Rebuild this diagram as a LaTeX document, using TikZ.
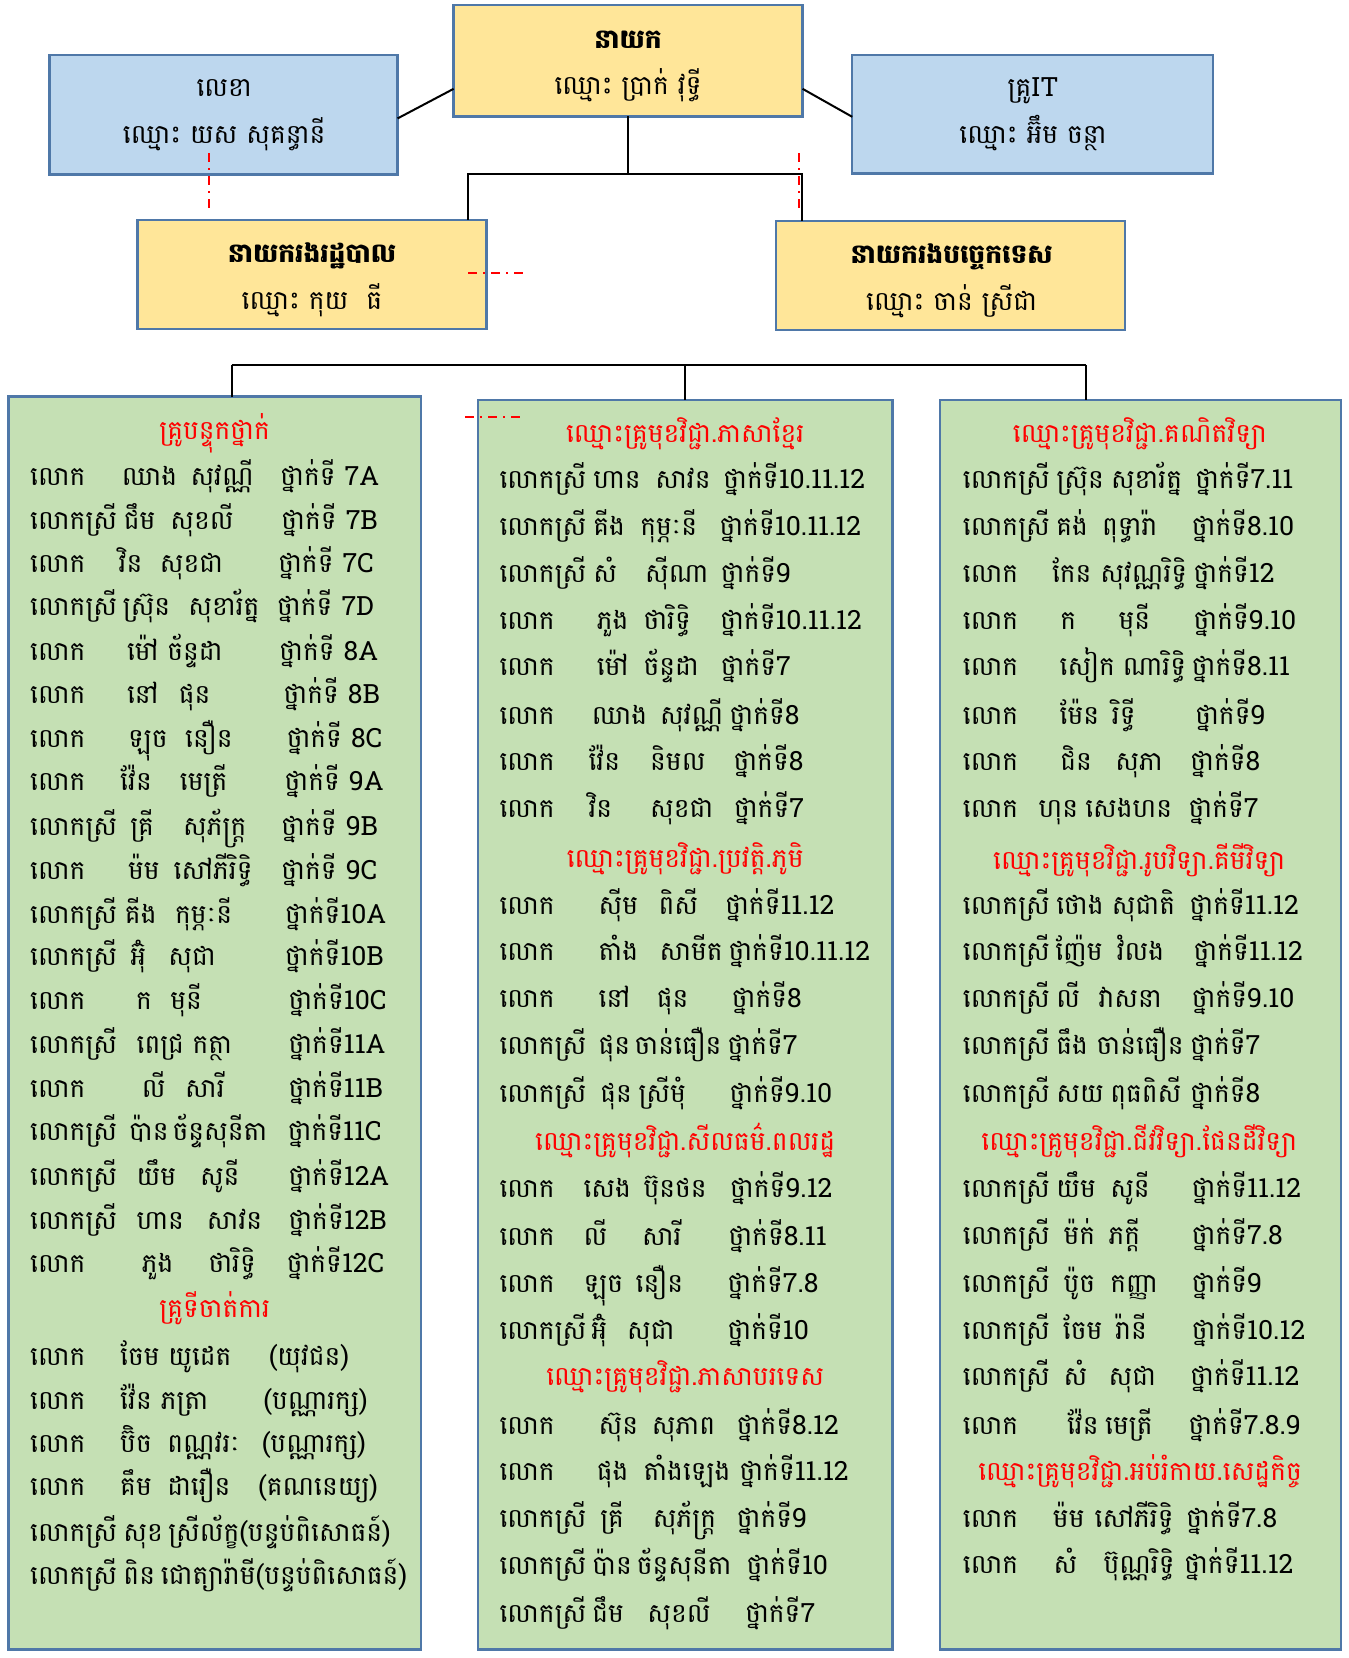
\documentclass[tikz,border=0pt]{standalone}
\usepackage{fontspec}
\newfontfamily\kh[Script=Khmer]{Battambang}
\usetikzlibrary{calc}
\definecolor{bd}{HTML}{4F78A8}
\definecolor{yel}{HTML}{FFE699}
\definecolor{blu}{HTML}{BDD7EE}
\definecolor{grn}{HTML}{C5E0B4}
\definecolor{kred}{HTML}{FF0000}
\newcommand\kfont{\kh\fontsize{26.5}{30}\selectfont}
\newcommand\gap{\hspace{9pt}}
\tikzset{
  box/.style={draw=bd, line width=2.4pt, inner sep=0pt, outer sep=0pt},
  ybox/.style={box, fill=yel},
  bbox/.style={box, fill=blu},
  gbox/.style={box, fill=grn},
  tx/.style={anchor=base west, inner sep=0pt, font=\kfont},
  ctr/.style={anchor=base, inner sep=0pt, font=\kfont},
  ctrb/.style={anchor=base, inner sep=0pt, font=\kfont\bfseries},
  hd/.style={anchor=base, inner sep=0pt, text=kred, font=\kfont},
  conn/.style={line width=2pt, black},
  rdash/.style={kred, line width=2pt, dash pattern=on 9pt off 6pt on 2pt off 6pt},
}
\newcommand\KBox[6]{\node[#2, minimum width={(#5-(#3))*1.0573pt}, minimum height={(#6-(#4))*1.0573pt}] (#1) at ({(#3+#5)/2},{(#4+#6)/2}) {};}
\newcommand\KRow[9]{%
  \node[tx] (#1a) at (\cx,#2+8.5) {#3};
  \node[tx] (#1b) at (#4,#2+8.5) {#5};
  \node[tx] (#1c) at (#6,#2+8.5) {#7};
  \node[tx] (#1d) at (#8,#2+8.5) {#9};}
\newcommand\KRowT[7]{%
  \node[tx] (#1a) at (\cx,#2+8.5) {#3};
  \node[tx] (#1b) at (#4,#2+8.5) {#5};
  \node[tx] (#1c) at (#6,#2+8.5) {#7};}
\newcommand\KHead[4]{\node[hd] (#1) at (#2,#3+8.5) {#4};}
\def\Lk{លោក}
\def\Ls{លោកស្រី}
\def\Tn{ថ្នាក់ទី}
\begin{document}
\begin{tikzpicture}[x=1.0573pt,y=-1.0573pt]
\fill[white] (0,0) rectangle (1275,1568);
\useasboundingbox (0,0) rectangle (1275,1568);
% boxes
\KBox{sec}{bbox}{47}{52}{376}{165}
\KBox{dir}{ybox}{429}{5}{759}{110}
\KBox{it}{bbox}{806}{52}{1147}{164}
\KBox{adm}{ybox}{130}{208}{460}{311}
\KBox{tech}{ybox}{734}{209}{1064}{312}
\KBox{L}{gbox}{8}{375}{398}{1560}
\KBox{M}{gbox}{452}{378}{844}{1560}
\KBox{R}{gbox}{889}{378}{1268}{1560}
% connectors top
\draw[conn] ($(sec.east)+(0,3.5)$) -- ($(dir.west)+(0,26.5)$);
\draw[conn] ($(dir.east)+(0,26.5)$) -- ($(it.west)+(0,2.5)$);
\draw[conn] (dir.south) -- (dir.south |- 0,165);
\draw[conn] ($(adm.north west)+(313,0)$) |- (dir.south |- 0,165) -| ($(tech.north west)+(24,0)$);
% connectors second level
\coordinate (b1) at (219,345);
\coordinate (b2) at (1027,345);
\draw[conn] ($(adm.south)+(-8,0)$) -- ($(adm.south)+(-8,0)$ |- b1);
\draw[conn] ($(tech.south)+(-9,0)$) -- ($(tech.south)+(-9,0)$ |- b1);
\draw[conn] (b1) -- (b2);
\draw[conn] (b1) -- (b1 |- L.north);
\draw[conn] (b2) -- (b2 |- R.north);
\draw[conn] (M.north) -- (M.north |- b1);
% red dashed remnants
\coordinate (r1a) at (198,145); \coordinate (r1b) at (198,200);
\coordinate (r2a) at (756,145); \coordinate (r2b) at (756,200);
\coordinate (r3a) at (443,258); \coordinate (r3b) at (500,258);
\coordinate (r4a) at (440,394); \coordinate (r4b) at (497,394);
\draw[rdash] (r1a) -- (r1b);
\draw[rdash] (r2a) -- (r2b);
\draw[rdash] (r3a) -- (r3b);
\draw[rdash] (r4a) -- (r4b);
% top texts
\node[ctrb] (dirT1) at (594,37+8.5) {នាយក};
\node[ctr] (dirT2) at (594,81+8.5) {ឈ្មោះ\gap ប្រាក់\gap វុទ្ធី};
\node[ctr] (secT1) at (212,83+8.5) {លេខា};
\node[ctr] (secT2) at (212,127+8.5) {ឈ្មោះ យស សុគន្ធានី};
\node[ctr] (itT1) at (977,83+8.5) {គ្រូIT};
\node[ctr] (itT2) at (977,127+8.5) {ឈ្មោះ អ៊ឹម\gap ចន្ថា};
\node[ctrb] (admT1) at (295,240+8.5) {នាយករងរដ្ឋបាល};
\node[ctr] (admT2) at (295,284+8.5) {ឈ្មោះ កុយ\gap\gap ធី};
\node[ctrb] (techT1) at (900,241+8.5) {នាយករងបច្ចេកទេស};
\node[ctr] (techT2) at (900,285+8.5) {ឈ្មោះ ចាន់\gap ស្រីជា};
% left column
\def\cx{28.4}
\KHead{Lh1}{203}{407}{គ្រូបន្ទុកថ្នាក់}
\KRow{L1}{451}{\Lk}{115}{ឈាង}{180}{សុវណ្ណី}{265}{\Tn\ 7A}
\KRow{L2}{492}{\Ls}{117}{ជឹម}{161}{សុខលី}{266}{\Tn\ 7B}
\KRow{L3}{533}{\Lk}{112}{វិន}{151}{សុខជា}{263}{\Tn\ 7C}
\KRow{L4}{574}{\Ls}{116}{ស្រ៊ុន}{178}{សុខារ័ត្ន}{262}{\Tn\ 7D}
\KRow{L5}{616}{\Lk}{120}{ម៉ៅ}{158}{ច័ន្ទដា}{264}{\Tn\ 8A}
\KRow{L6}{657}{\Lk}{120}{នៅ}{169}{ផុន}{268}{\Tn\ 8B}
\KRow{L7}{698}{\Lk}{121}{ឡុច}{175}{នឿន}{271}{\Tn\ 8C}
\KRow{L8}{739}{\Lk}{113.5}{វ៉ែន}{170}{មេត្រី}{269}{\Tn\ 9A}
\KRow{L9}{782}{\Ls}{123}{គ្រី}{173}{សុភ័ក្ត្រ}{266}{\Tn\ 9B}
\KRow{L10}{823}{\Lk}{121}{ម៉ម}{164}{សៅភីរិទ្ធិ}{266}{\Tn\ 9C}
\KRow{L11}{865}{\Ls}{118}{គីង}{165.5}{កុម្ភៈនី}{269.5}{\Tn10A}
\KRow{L12}{905}{\Ls}{123}{អ៊ុំ}{159}{សុជា}{269.5}{\Tn10B}
\KRow{L13}{946}{\Lk}{128.6}{ក}{161}{មុនី}{272.7}{\Tn10C}
\KRow{L14}{988}{\Ls}{129}{ពេជ្រ}{182}{កត្ថា}{272.7}{\Tn11A}
\KRow{L15}{1029}{\Lk}{134}{លី}{175}{សារី}{272.7}{\Tn11B}
\KRow{L16}{1070}{\Ls}{122}{ប៉ាន}{163}{ច័ន្ទសុនីតា}{272}{\Tn11C}
\KRow{L17}{1113}{\Ls}{129}{យឹម}{189}{សូនី}{272.7}{\Tn12A}
\KRow{L18}{1154}{\Ls}{129}{ហាន}{195.5}{សាវន}{272.7}{\Tn12B}
\KRow{L19}{1195}{\Lk}{134}{ភួង}{197}{ថារិទ្ធិ}{271}{\Tn12C}
\KHead{Lh2}{203}{1237}{គ្រូទីចាត់ការ}
\KRow{L20}{1282.5}{\Lk}{113.5}{ចែម}{159}{យូដេត}{254}{(យុវជន)}
\KRow{L21}{1324}{\Lk}{113.5}{វ៉ែន}{152}{ភត្រា}{249}{(បណ្ណារក្ស)}
\KRow{L22}{1365}{\Lk}{113.5}{ប៊ិច}{158}{ពណ្ណវរៈ}{247.5}{(បណ្ណារក្ស)}
\KRow{L23}{1406}{\Lk}{113.5}{គឹម}{158}{ដារឿន}{244}{(គណនេយ្យ)}
\KRowT{L24}{1449}{\Ls}{116.6}{សុខ}{159}{ស្រីល័ក្ខ(បន្ទប់ពិសោធន៍)}
\KRowT{L25}{1490}{\Ls}{116.6}{ពិន}{152}{ជោត្យារ៉ាមី(បន្ទប់ពិសោធន៍)}
% middle column
\def\cx{472.2}
\KHead{Mh1}{648}{410}{ឈ្មោះគ្រូមុខវិជ្ជា.ភាសាខ្មែរ}
\KRow{M1}{453.4}{\Ls}{561}{ហាន}{619.5}{សាវន}{684}{\Tn10.11.12}
\KRow{M2}{498}{\Ls}{561}{គីង}{605.3}{កុម្ភៈនី}{680.3}{\Tn10.11.12}
\KRow{M3}{542}{\Ls}{561}{សំ}{610}{ស៊ីណា}{681.6}{\Tn9}
\KRow{M4}{586.5}{\Lk}{564.3}{ភួង}{608.4}{ថារិទ្ធិ}{681}{\Tn10.11.12}
\KRow{M5}{630.6}{\Lk}{564.3}{ម៉ៅ}{608.4}{ច័ន្ទដា}{681.6}{\Tn7}
\KRow{M6}{676.3}{\Lk}{559.6}{ឈាង}{624}{សុវណ្ណី}{689.8}{\Tn8}
\KRow{M7}{720.4}{\Lk}{556.4}{វ៉ែន}{614.7}{និមល}{693.5}{\Tn8}
\KRow{M8}{764.6}{\Lk}{556.4}{វិន}{614.7}{សុខជា}{694}{\Tn7}
\KHead{Mh2}{648}{811.8}{ឈ្មោះគ្រូមុខវិជ្ជា.ប្រវត្តិ.ភូមិ}
\KRow{M9}{856}{\Lk}{565.9}{ស៊ីម}{622.6}{ពិសី}{685.7}{\Tn11.12}
\KRow{M10}{900}{\Lk}{566}{តាំង}{623.6}{សាមីត}{688.8}{\Tn10.11.12}
\KRow{M11}{944.2}{\Lk}{566}{នៅ}{621}{ផុន}{692}{\Tn8}
\KRow{M12}{988.4}{\Ls}{566}{ផុន}{600}{ចាន់ធឿន}{688}{\Tn7}
\KRow{M13}{1034}{\Ls}{567.5}{ផុន}{603.7}{ស្រីមុំ}{689.8}{\Tn9.10}
\KHead{Mh3}{648}{1079.8}{ឈ្មោះគ្រូមុខវិជ្ជា.សីលធម៌.ពលរដ្ឋ}
\KRow{M14}{1124}{\Lk}{551.7}{សេង}{608.4}{ប៊ុនថន}{690.4}{\Tn9.12}
\KRow{M15}{1169}{\Lk}{551.7}{លី}{607}{សារី}{688.8}{\Tn8.11}
\KRow{M16}{1213.7}{\Lk}{551.7}{ឡុច}{601}{នឿន}{688}{\Tn7.8}
\KRow{M17}{1257.9}{\Ls}{559}{អ៊ុំ}{593}{សុជា}{688}{\Tn10}
\KHead{Mh4}{648}{1302}{ឈ្មោះគ្រូមុខវិជ្ជា.ភាសាបរទេស}
\KRow{M18}{1347.7}{\Lk}{566}{ស៊ុន}{616.3}{សុភាព}{696.7}{\Tn8.12}
\KRow{M19}{1391.9}{\Lk}{564.3}{ផុង}{608.4}{តាំងឡេង}{699.2}{\Tn11.12}
\KRow{M20}{1436}{\Ls}{567.5}{គ្រី}{617.3}{សុភ័ក្ត្រ}{696.7}{\Tn9}
\KRow{M21}{1480.1}{\Ls}{560}{ប៉ាន}{602}{ច័ន្ទសុនីតា}{706}{\Tn10}
\KRow{M22}{1525.8}{\Ls}{560}{ជឹម}{612}{សុខលី}{704.6}{\Tn7}
% right column
\def\cx{910.5}
\KHead{Rh1}{1078}{410}{ឈ្មោះគ្រូមុខវិជ្ជា.គណិតវិទ្យា}
\KRow{R1}{453.4}{\Ls}{999}{ស្រ៊ុន}{1050.5}{សុខារ័ត្ន}{1130.2}{\Tn7.11}
\KRow{R2}{498}{\Ls}{998.8}{គង់}{1042}{ពុទ្ធារ៉ា}{1127}{\Tn8.10}
\KRow{R3}{542.3}{\Lk}{994.7}{កែន}{1040.4}{សុវណ្ណរិទ្ធិ}{1128.6}{\Tn12}
\KRow{R4}{586.4}{\Lk}{1002.5}{ក}{1057.7}{មុនី}{1128.6}{\Tn9.10}
\KRow{R5}{630.6}{\Lk}{1001.9}{សៀក}{1061.8}{ណារិទ្ធិ}{1127}{\Tn8.11}
\KRow{R6}{676.3}{\Lk}{1001.9}{ម៉ែន}{1051.4}{រិទ្ធី}{1130.2}{\Tn9}
\KRow{R7}{720.4}{\Lk}{1002.5}{ជិន}{1054.6}{សុភា}{1125.5}{\Tn8}
\KRow{R8}{764.6}{\Lk}{982}{ហុន}{1026.2}{សេងហន}{1123.9}{\Tn7}
\KHead{Rh2}{1077.4}{813.4}{ឈ្មោះគ្រូមុខវិជ្ជា.រូបវិទ្យា.គីមីវិទ្យា}
\KRow{R9}{856}{\Ls}{998.8}{ថោង}{1051.4}{សុជាតិ}{1124.9}{\Tn11.12}
\KRow{R10}{900}{\Ls}{997.8}{ញ៉ែម}{1056}{វំលង}{1128.6}{\Tn11.12}
\KRow{R11}{944.2}{\Ls}{998.8}{លី}{1038.8}{វាសនា}{1127}{\Tn9.10}
\KRow{R12}{988.4}{\Ls}{998.8}{ធឹង}{1037}{ចាន់ធឿន}{1125.5}{\Tn7}
\KRow{R13}{1034}{\Ls}{998.8}{សយ}{1049.8}{ពុធពិសី}{1125.5}{\Tn8}
\KHead{Rh3}{1077.4}{1079.8}{ឈ្មោះគ្រូមុខវិជ្ជា.ជីវវិទ្យា.ផែនដីវិទ្យា}
\KRow{R14}{1124}{\Ls}{998.8}{យឹម}{1049.8}{សូនី}{1127}{\Tn11.12}
\KRow{R15}{1168}{\Ls}{1005.7}{ម៉ក់}{1048.3}{ភក្តី}{1127}{\Tn7.8}
\KRow{R16}{1213.7}{\Ls}{1005.7}{ប៉ូច}{1049.8}{កញ្ញា}{1127}{\Tn9}
\KRow{R17}{1257.9}{\Ls}{1005}{ចែម}{1054.6}{រ៉ានី}{1127}{\Tn10.12}
\KRow{R18}{1302}{\Ls}{1005.7}{សំ}{1048.3}{សុជា}{1125.5}{\Tn11.12}
\KRow{R19}{1347.7}{\Lk}{1008.9}{វ៉ែន}{1045}{មេត្រី}{1123.9}{\Tn7.8.9}
\KHead{Rh4}{1078.2}{1391.9}{ឈ្មោះគ្រូមុខវិជ្ជា.អប់រំកាយ.សេដ្ឋកិច្ច}
\KRow{R20}{1436}{\Lk}{995.6}{ម៉ម}{1035}{សៅភីរិទ្ធិ}{1121.7}{\Tn7.8}
\KRow{R21}{1480}{\Lk}{996.2}{សំ}{1043.5}{ប៊ុណ្ណរិទ្ធិ}{1119.8}{\Tn11.12}
\end{tikzpicture}
\end{document}
